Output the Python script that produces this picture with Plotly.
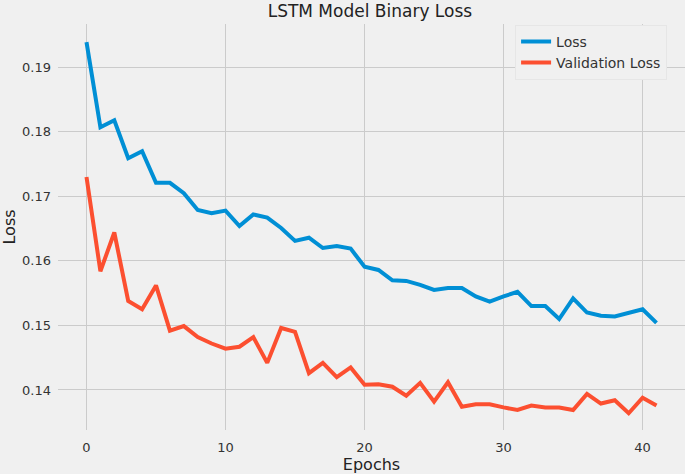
import plotly.graph_objects as go

epochs = list(range(42))
loss = [0.1939, 0.1807, 0.1818, 0.1759, 0.1770, 0.1721, 0.1721, 0.1705, 0.1679, 0.1674,
        0.1678, 0.1654, 0.1672, 0.1667, 0.1651, 0.1631, 0.1636, 0.1620, 0.1623, 0.1619,
        0.1591, 0.1586, 0.1570, 0.1569, 0.1563, 0.1555, 0.1558, 0.1558, 0.1545, 0.1537,
        0.1545, 0.1552, 0.1530, 0.1530, 0.1510, 0.1542, 0.1520, 0.1515, 0.1514, 0.1519,
        0.1525, 0.1504]
val_loss = [0.1730, 0.1584, 0.1644, 0.1538, 0.1525, 0.1562, 0.1492, 0.1499, 0.1482, 0.1472,
            0.1464, 0.1467, 0.1482, 0.1442, 0.1496, 0.1490, 0.1426, 0.1442, 0.1420, 0.1435,
            0.1408, 0.1409, 0.1405, 0.1391, 0.1411, 0.1382, 0.1412, 0.1374, 0.1378, 0.1378,
            0.1373, 0.1369, 0.1376, 0.1373, 0.1373, 0.1369, 0.1394, 0.1379, 0.1384, 0.1364,
            0.1388, 0.1376]
x_ticks = [0, 10, 20, 30, 40]
y_ticks = [0.14, 0.15, 0.16, 0.17, 0.18, 0.19]

FONT = "DejaVu Sans"
fig = go.Figure()
fig.add_trace(go.Scatter(x=epochs, y=loss, mode="lines", name="Loss",
                         line=dict(color="#008fd5", width=4)))
fig.add_trace(go.Scatter(x=epochs, y=val_loss, mode="lines", name="Validation Loss",
                         line=dict(color="#fc4f30", width=4)))

fig.update_layout(
    width=685, height=474,
    margin=dict(l=58, r=0, t=24, b=44),
    paper_bgcolor="#f0f0f0", plot_bgcolor="#f0f0f0",
    font=dict(family=FONT, color="#333333", size=13),
    title=dict(text="LSTM Model Binary Loss", x=0.54, xanchor="center", y=0.976, yanchor="middle",
               font=dict(family=FONT, size=17, color="#222222")),
    showlegend=True,
    legend=dict(x=0.729, y=0.998, xanchor="left", yanchor="top",
                bgcolor="#f0f0f0", bordercolor="#e6e6e6", borderwidth=1,
                font=dict(family=FONT, size=14, color="#333333"),
                itemwidth=30, tracegroupgap=2),
    xaxis=dict(range=[-2.05, 43.05], tickvals=x_ticks, showgrid=True, gridcolor="#cbcbcb",
               gridwidth=1, zeroline=False, showline=False, ticks="", ticklabelstandoff=8,
               title=dict(text="Epochs", font=dict(family=FONT, size=16, color="#222222"), standoff=4),
               automargin=False),
    yaxis=dict(range=[0.1338, 0.19671], tickvals=y_ticks, tickformat=".2f", showgrid=True,
               gridcolor="#cbcbcb", gridwidth=1, zeroline=False, showline=False, ticks="",
               ticklabelstandoff=6,
               title=dict(text="Loss", font=dict(family=FONT, size=16, color="#222222"), standoff=4),
               automargin=False),
)

fig.write_html("out.html", config={"displayModeBar": False},
               post_script="document.body.style.margin='0';document.body.style.background='#f0f0f0';")
